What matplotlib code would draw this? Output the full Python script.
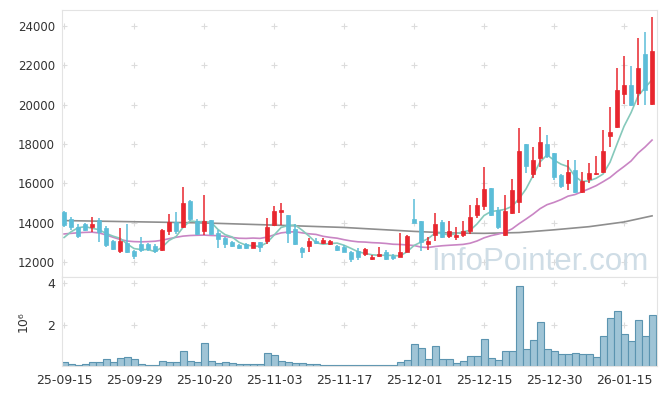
import numpy as np
import pandas as pd
import matplotlib
matplotlib.use("Agg")
import matplotlib.pyplot as plt

# x tick labels (every 10 trading days)
tick_idx = [0, 10, 20, 30, 40, 50, 60, 70, 80]
tick_labels = ["25-09-15", "25-09-29", "25-10-20", "25-11-03", "25-11-17",
               "25-12-01", "25-12-15", "25-12-30", "26-01-15"]

# daily OHLC
opens = [14540, 14190, 13800, 13930, 13780, 14140, 13745, 13080, 12560, 12950,
         12560, 12900, 12900, 12810, 12610, 13590, 14050, 13800, 15120, 14100,
         13590, 14120, 13460, 13200, 13030, 12865, 12900, 12730, 13000, 13080,
         13880, 14545, 14390, 13665, 12700, 12830, 13080, 12950, 12900, 12810,
         12780, 12495, 12575, 12410, 12150, 12305, 12494, 12320, 12270, 12524,
         14190, 14086, 12916, 13374, 14050, 13323, 13290, 13374, 13594, 14392,
         14865, 15766, 14646, 13374, 14478, 15038, 18006, 16464, 17278, 17990,
         17563, 16428, 16036, 16683, 15580, 16224, 16480, 16565, 18430, 18887,
         20535, 21010, 20586, 22600, 20026]
highs = [14600, 14300, 13920, 14000, 14280, 14230, 13850, 13100, 13745, 13920,
         12600, 13260, 12980, 12900, 13700, 14440, 14560, 15800, 15150, 14170,
         15410, 14150, 13630, 13280, 13060, 12900, 12980, 13030, 13030, 14220,
         14850, 15020, 14400, 13930, 12780, 13200, 13200, 13200, 13120, 12860,
         12860, 12575, 12700, 12700, 12360, 12745, 12600, 12420, 13490, 13380,
         15190, 14090, 13290, 14510, 14150, 14086, 13760, 14086, 14900, 15240,
         16820, 15766, 14815, 15410, 16200, 18800, 18006, 17870, 18887, 18464,
         17563, 16500, 17190, 17190, 16565, 17023, 17395, 18720, 19905, 21858,
         22484, 21976, 23385, 23722, 24486]
lows = [13800, 13630, 13240, 13560, 13530, 13030, 12780, 12600, 12470, 12440,
        12150, 12520, 12560, 12450, 12560, 13370, 13450, 13745, 14100, 13370,
        13370, 13370, 12700, 12700, 12780, 12650, 12650, 12700, 12520, 12900,
        13830, 13880, 12980, 12860, 12190, 12520, 12900, 12900, 12880, 12560,
        12490, 12015, 12100, 12290, 12100, 12270, 12120, 12100, 12240, 12490,
        13980, 12575, 12610, 13085, 13200, 13206, 13100, 13300, 13425, 14224,
        14646, 14340, 13664, 13323, 14443, 14478, 16514, 16260, 16820, 17278,
        16170, 15750, 15664, 15528, 15496, 16004, 16450, 16540, 17868, 18805,
        20026, 19940, 19991, 19991, 19991]
closes = [13900, 13800, 13340, 13630, 13935, 13510, 12865, 12650, 13070, 12525,
          12320, 12610, 12650, 12560, 13630, 14050, 13590, 15020, 14170, 13430,
          14070, 13430, 13155, 12900, 12830, 12700, 12700, 13000, 12750, 13800,
          14595, 14646, 13490, 12900, 12495, 13080, 12950, 13120, 13070, 12610,
          12525, 12150, 12270, 12646, 12250, 12407, 12152, 12220, 12524, 13320,
          14000, 13033, 13068, 13934, 13250, 13577, 13374, 13577, 14275, 14900,
          15715, 14392, 13800, 14595, 15664, 17650, 16900, 17190, 18092, 17400,
          16341, 15868, 16565, 15580, 16123, 16514, 16520, 17650, 18600, 20755,
          21010, 19991, 21858, 20755, 22739]

# volume in millions of shares
volumes = [0.19, 0.11, 0.06, 0.11, 0.19, 0.19, 0.35, 0.19, 0.38, 0.43,
           0.35, 0.11, 0.05, 0.05, 0.25, 0.19, 0.19, 0.71, 0.25, 0.19,
           1.11, 0.25, 0.14, 0.19, 0.14, 0.11, 0.11, 0.11, 0.11, 0.63,
           0.54, 0.24, 0.19, 0.16, 0.16, 0.11, 0.11, 0.06, 0.06, 0.06,
           0.06, 0.06, 0.06, 0.06, 0.06, 0.06, 0.06, 0.06, 0.19, 0.30,
           1.05, 0.87, 0.35, 0.95, 0.35, 0.35, 0.16, 0.25, 0.48, 0.48,
           1.30, 0.38, 0.30, 0.73, 0.73, 3.87, 0.83, 1.25, 2.10, 0.83,
           0.73, 0.56, 0.59, 0.63, 0.56, 0.59, 0.44, 1.43, 2.29, 2.67,
           1.52, 1.21, 2.21, 1.43, 2.48]

# closes before the first visible day (needed for the 5-day average)
prev_closes = [12350, 12315, 13355, 14330]
# 20-day average for the first 19 days (history not shown on chart)
ma20_early = [13430, 13460, 13490, 13510, 13520, 13480, 13380, 13260, 13150, 13070,
              13040, 13030, 13040, 13060, 13110, 13190, 13260, 13320, 13350]
# long moving average, read at a few points
ma_long_idx = [0, 10, 20, 30, 40, 50, 55, 60, 65, 70, 75, 80, 84]
ma_long = [14110, 14050, 13990, 13880, 13760, 13560, 13480, 13460, 13500,
           13640, 13800, 14040, 14350]

UP = "#e8262e"
DOWN = "#5bbdd8"


def draw_chart():
    n = len(closes)
    x = np.arange(n)
    o = np.array(opens)
    h = np.array(highs)
    l = np.array(lows)
    c = np.array(closes)
    colors = [UP if c[i] >= o[i] else DOWN for i in range(n)]

    ma5 = pd.Series(prev_closes + closes).rolling(5).mean().values[len(prev_closes):]
    ma20 = pd.Series(closes).rolling(20).mean().values
    ma20[:len(ma20_early)] = ma20_early

    fig = plt.figure(figsize=(6.65, 3.96), dpi=100)
    ax = fig.add_axes([0.0932, 0.3005, 0.8947, 0.6742])
    axv = fig.add_axes([0.0932, 0.0758, 0.8947, 0.2247], sharex=ax)

    # grid crosses
    yt = list(range(12000, 24001, 2000))
    gx, gy = np.meshgrid(tick_idx, yt)
    ax.scatter(gx.ravel(), gy.ravel(), marker="+", s=22, color="#dcdcdc",
               linewidths=0.8, zorder=0)
    gx, gy = np.meshgrid(tick_idx, [2e6, 4e6])
    axv.scatter(gx.ravel(), gy.ravel(), marker="+", s=22, color="#dcdcdc",
                linewidths=0.8, zorder=0)

    # watermark
    ax.text(0.985, 0.026, "InfoPointer.com", transform=ax.transAxes,
            fontsize=22.5, family=["Liberation Sans", "DejaVu Sans"],
            color="#cfdde6", ha="right", va="baseline", zorder=1)

    # moving averages
    ax.plot(ma_long_idx, ma_long, color="#8e8e8e", lw=1.2, zorder=2)
    ax.plot(x, ma20, color="#c985c4", lw=1.2, zorder=2)
    ax.plot(x, ma5, color="#86c9bb", lw=1.2, zorder=2)

    # candles
    ax.vlines(x, l, h, colors=colors, lw=1.1, zorder=3)
    body = np.maximum(np.abs(c - o), 40)
    ax.bar(x, body, bottom=np.minimum(o, c), width=0.62, color=colors,
           edgecolor=colors, lw=0.5, zorder=4)

    ax.set_xlim(-0.3, n - 0.3)
    ax.set_ylim(11240, 24820)
    ax.set_yticks(yt)
    ax.tick_params(axis="y", length=0, pad=5, labelsize=8.5, labelcolor="#333333")
    ax.tick_params(axis="x", length=0, labelbottom=False)

    # volume
    axv.bar(x, np.array(volumes) * 1e6, width=1.0, color="#9fc4d6",
            edgecolor="#5b94b0", lw=0.8, zorder=2)
    axv.set_ylim(0, 4.29e6)
    axv.set_yticks([2e6, 4e6])
    axv.set_yticklabels(["2", "4"])
    axv.tick_params(axis="y", length=0, pad=5, labelsize=9, labelcolor="#333333")
    axv.set_xticks(tick_idx)
    axv.set_xticklabels(tick_labels)
    axv.tick_params(axis="x", length=0, pad=6, labelsize=9, labelcolor="#333333")
    axv.set_ylabel("10⁶", fontsize=9, color="#333333")
    axv.yaxis.set_label_coords(-0.054, 0.5)

    for a in (ax, axv):
        for s in a.spines.values():
            s.set_color("#e3e3e3")
            s.set_linewidth(0.8)

    fig.savefig("out.png", dpi=100)
    plt.close(fig)


if __name__ == "__main__":
    draw_chart()
